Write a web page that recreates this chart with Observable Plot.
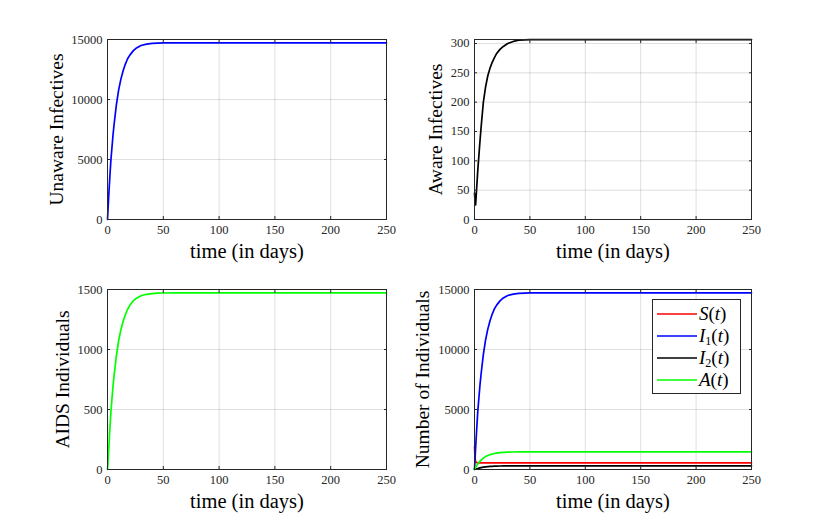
<!DOCTYPE html>
<html><head><meta charset="utf-8">
<script src="https://cdn.jsdelivr.net/npm/d3@7"></script>
<script src="https://cdn.jsdelivr.net/npm/@observablehq/plot@0.6"></script>
<style>
body{margin:0;background:#fff;}
#fig{position:relative;width:830px;height:528px;overflow:hidden;background:#fff;font-family:"Liberation Serif","Times New Roman",serif;}
.panel{position:absolute;}
.panel text{font-family:"Liberation Serif","Times New Roman",serif;}
#legend{position:absolute;left:652px;top:299px;width:89px;height:95px;box-sizing:border-box;border:1px solid #262626;background:#fff;}
.lrow{position:absolute;left:0;height:22px;width:100%;}
.lrow svg{position:absolute;left:4px;top:0;}
.lrow span{position:absolute;left:46px;top:0px;font-size:19px;line-height:21px;color:#000;white-space:nowrap;}
.lrow sub{font-size:12px;font-style:normal;vertical-align:-3px;line-height:0;}
</style></head><body><div id="fig"></div>
<script>
// time points (days)
const days = [0, 0.5, 1, 2, 3, 4, 5, 6, 8, 10, 12, 14, 16, 18, 20, 23, 26, 30, 35, 40, 45, 50, 60, 80, 100, 150, 200, 250];
// S(t) susceptible
const susceptible = [1900, 900, 650, 565, 560, 558, 558, 558, 558, 558, 558, 558, 558, 558, 558, 558, 558, 558, 558, 558, 558, 558, 558, 558, 558, 558, 558, 558];
// I1(t) unaware infectives
const unaware = [0, 900, 1800, 3400, 4900, 6000, 7100, 8000, 9600, 10800, 11700, 12400, 12950, 13400, 13700, 14050, 14300, 14500, 14620, 14680, 14705, 14715, 14720, 14720, 14720, 14720, 14720, 14720];
// I2(t) aware infectives
const aware = [45, 30, 25, 55, 85, 110, 135, 158, 200, 226, 245, 258, 268, 276, 283, 290, 295, 300, 303.5, 305.5, 306.3, 306.6, 306.7, 306.7, 306.7, 306.7, 306.7, 306.7];
// A(t) AIDS individuals
const aids = [0, 60, 150, 320, 470, 590, 700, 790, 950, 1075, 1165, 1235, 1290, 1335, 1368, 1405, 1428, 1448, 1460, 1466, 1469, 1471, 1472, 1472, 1472, 1472, 1472, 1472];

const xTicks = [0, 50, 100, 150, 200, 250];
const bigTicks = [0, 5000, 10000, 15000];
const awareTicks = [0, 50, 100, 150, 200, 250, 300];
const aidsTicks = [0, 500, 1000, 1500];
const xLabel = "time (in days)";

const legendNames = ['<i>S</i>(<i>t</i>)', '<i>I</i><sub>1</sub>(<i>t</i>)', '<i>I</i><sub>2</sub>(<i>t</i>)', '<i>A</i>(<i>t</i>)'];
const legendColors = ["#ff0000", "#0000ff", "#000000", "#00ff00"];

const FONT = '"Liberation Serif","Times New Roman",serif';
const INK = "#262626";
const fmt = d => String(d);

function panel({left, top, ml, mr, mt, mb, yDomain, yTicks, series, ylabel, ylabelDx}) {
  const W = 415, H = 264;
  const marks = [
    Plot.gridX(xTicks, {stroke: INK, strokeOpacity: 0.15}),
    Plot.gridY(yTicks, {stroke: INK, strokeOpacity: 0.15}),
    ...series.map(s => Plot.line(days.map((d, i) => ({t: d, v: s.values[i]})), {x: "t", y: "v", stroke: s.color, strokeWidth: 1.7})),
    Plot.frame({stroke: INK, strokeWidth: 1}),
    Plot.axisX(xTicks, {anchor: "bottom", tickSize: 0, tickPadding: 6, fontSize: 12.5, fontFamily: FONT, label: null, color: INK, tickFormat: fmt}),
    Plot.axisY(yTicks, {anchor: "left", tickSize: 0, tickPadding: 5, fontSize: 12.5, fontFamily: FONT, label: null, color: INK, tickFormat: fmt}),
    Plot.axisX(xTicks, {anchor: "bottom", tickSize: -3, tickFormat: () => "", label: null, stroke: INK}),
    Plot.axisX(xTicks, {anchor: "top", tickSize: -3, tickFormat: () => "", label: null, stroke: INK}),
    Plot.axisY(yTicks, {anchor: "left", tickSize: -3, tickFormat: () => "", label: null, stroke: INK}),
    Plot.axisY(yTicks, {anchor: "right", tickSize: -3, tickFormat: () => "", label: null, stroke: INK}),
    Plot.text([xLabel], {text: d => d, frameAnchor: "bottom", textAnchor: "middle", lineAnchor: "middle", dy: 32, fontSize: 20.5, fontFamily: FONT, fill: "#000"}),
    Plot.text([ylabel], {text: d => d, frameAnchor: "left", textAnchor: "middle", lineAnchor: "middle", rotate: -90, dx: ylabelDx, fontSize: 19.5, fontFamily: FONT, fill: "#000"})
  ];
  const svg = Plot.plot({
    width: W, height: H,
    marginLeft: ml, marginRight: mr, marginTop: mt, marginBottom: mb,
    x: {domain: [0, 250]},
    y: {domain: yDomain},
    style: {fontFamily: FONT, background: "transparent", overflow: "visible"},
    marks
  });
  svg.classList.add("panel");
  svg.style.left = left + "px";
  svg.style.top = top + "px";
  document.getElementById("fig").appendChild(svg);
}

panel({left: 0, top: 0, ml: 107, mr: 29, mt: 39, mb: 45, yDomain: [0, 15000], yTicks: bigTicks,
  series: [{values: unaware, color: "#0000ff"}], ylabel: "Unaware Infectives", ylabelDx: -51});
panel({left: 415, top: 0, ml: 59, mr: 79, mt: 39, mb: 45, yDomain: [0, 306.8], yTicks: awareTicks,
  series: [{values: aware, color: "#000000"}], ylabel: "Aware Infectives", ylabelDx: -39});
panel({left: 0, top: 264, ml: 107, mr: 29, mt: 25, mb: 59, yDomain: [0, 1500], yTicks: aidsTicks,
  series: [{values: aids, color: "#00ff00"}], ylabel: "AIDS Individuals", ylabelDx: -45});
panel({left: 415, top: 264, ml: 59, mr: 79, mt: 25, mb: 59, yDomain: [0, 15000], yTicks: bigTicks,
  series: [
    {values: susceptible, color: "#ff0000"},
    {values: unaware, color: "#0000ff"},
    {values: aware, color: "#000000"},
    {values: aids, color: "#00ff00"}
  ], ylabel: "Number of Individuals", ylabelDx: -52});

// legend
const leg = document.createElement("div");
leg.id = "legend";
const rowTops = [2.5, 24.5, 47, 69];
legendNames.forEach((n, i) => {
  const r = document.createElement("div");
  r.className = "lrow";
  r.style.top = rowTops[i] + "px";
  r.innerHTML = `<svg width="40" height="22"><line x1="0" x2="40" y1="11" y2="11" stroke="${legendColors[i]}" stroke-width="1.7"/></svg><span>${n}</span>`;
  leg.appendChild(r);
});
document.getElementById("fig").appendChild(leg);
</script>
</body></html>
